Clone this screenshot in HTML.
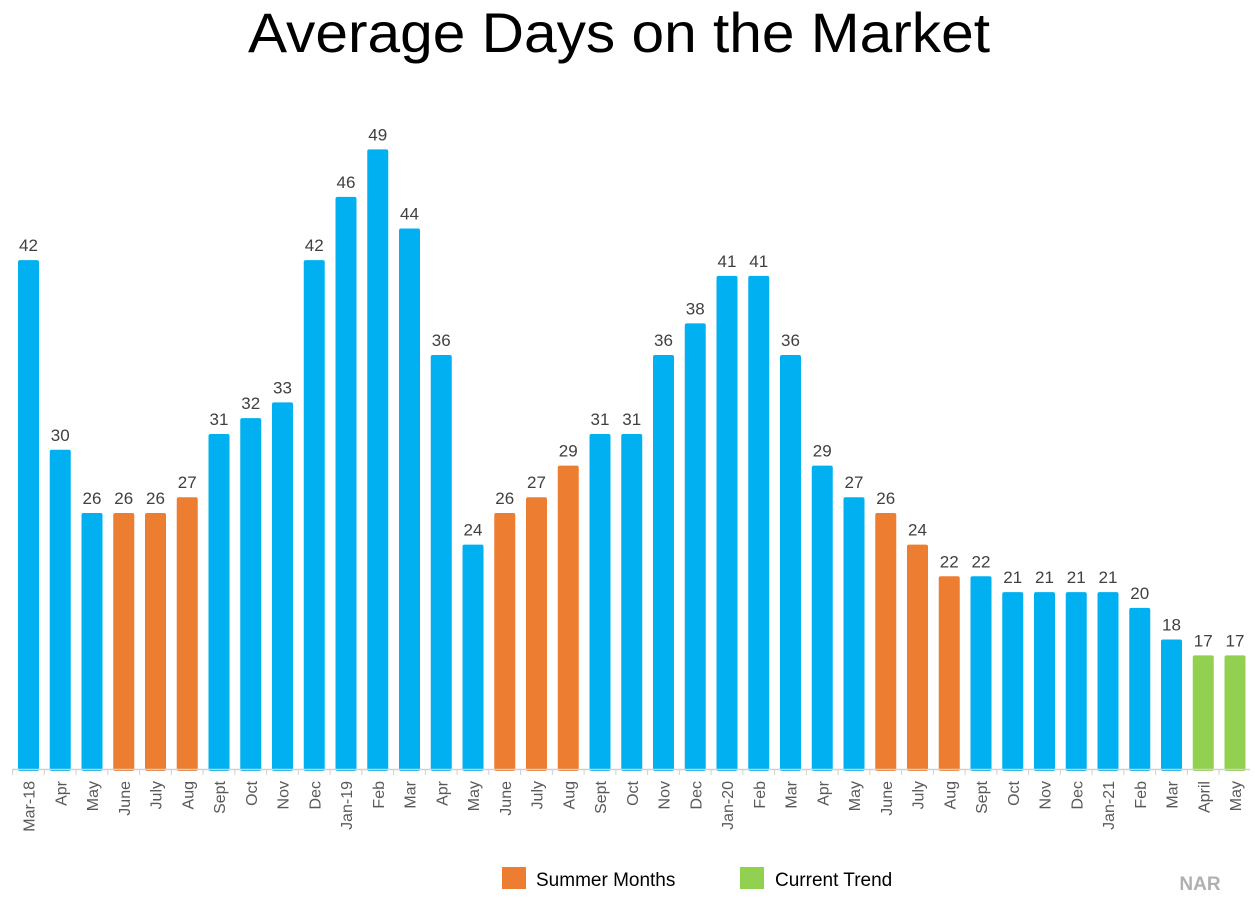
<!DOCTYPE html>
<html><head><meta charset="utf-8"><style>
body{margin:0;background:#fff;width:1255px;height:903px;overflow:hidden}
text{font-family:"Liberation Sans",sans-serif}
</style></head><body>
<svg id="chart" width="1255" height="903">
<text x="619" y="52" text-anchor="middle" font-size="56" fill="#000" textLength="742" lengthAdjust="spacingAndGlyphs">Average Days on the Market</text>
<g id="bars"></g>
<line x1="12" x2="1250" y1="769.5" y2="769.5" stroke="#d0d0d0" stroke-width="1.5"/>
<g>
<rect x="502" y="867" width="24" height="22" fill="#ED7D31"/>
<text x="536" y="886" font-size="19" fill="#000">Summer Months</text>
<rect x="740" y="867" width="24" height="22" fill="#92D050"/>
<text x="775" y="886" font-size="19" fill="#000">Current Trend</text>
</g>
<text x="1200" y="890" text-anchor="middle" font-size="19" font-weight="bold" fill="#b0b0b0">NAR</text>
</svg>
<script>
const categories=["Mar-18","Apr","May","June","July","Aug","Sept","Oct","Nov","Dec","Jan-19","Feb","Mar","Apr","May","June","July","Aug","Sept","Oct","Nov","Dec","Jan-20","Feb","Mar","Apr","May","June","July","Aug","Sept","Oct","Nov","Dec","Jan-21","Feb","Mar","April","May"];
const values=[42,30,26,26,26,27,31,32,33,42,46,49,44,36,24,26,27,29,31,31,36,38,41,41,36,29,27,26,24,22,22,21,21,21,21,20,18,17,17];
const groups=["b","b","b","s","s","s","b","b","b","b","b","b","b","b","b","s","s","s","b","b","b","b","b","b","b","b","b","s","s","s","b","b","b","b","b","b","b","c","c"];
const colors={b:"#00B0F0",s:"#ED7D31",c:"#92D050"};
const NS="http://www.w3.org/2000/svg";
const base=766,yMin=10,pxPer=15.81,axisY=769;
function y(v){return base-(v-yMin)*pxPer;}
function x(i){return 28.5+i*31.75;}
const g=document.getElementById('bars');
categories.forEach((c,i)=>{
  const v=values[i];
  const r=document.createElementNS(NS,'rect');
  r.setAttribute('x',x(i)-10.5);r.setAttribute('y',y(v));
  r.setAttribute('width',21);r.setAttribute('height',axisY-y(v)+2);
  r.setAttribute('rx',2);r.setAttribute('fill',colors[groups[i]]);
  
  
  g.appendChild(r);
  const t=document.createElementNS(NS,'text');
  t.setAttribute('x',x(i));t.setAttribute('y',y(v)-9);
  t.setAttribute('text-anchor','middle');t.setAttribute('font-size','17');t.setAttribute('fill','#404040');
  t.textContent=v;
  
  
  g.appendChild(t);
  const tk=document.createElementNS(NS,'line');
  tk.setAttribute('x1',x(i)-15.9);tk.setAttribute('x2',x(i)-15.9);
  tk.setAttribute('y1',769);tk.setAttribute('y2',775);tk.setAttribute('stroke','#d0d0d0');
  
  
  g.appendChild(tk);
  const l=document.createElementNS(NS,'text');
  l.setAttribute('transform','translate('+(x(i)+6)+',781) rotate(-90)');
  l.setAttribute('text-anchor','end');l.setAttribute('font-size','16');l.setAttribute('fill','#595959');
  l.textContent=c;
  
  
  g.appendChild(l);
});
</script>
</body></html>
